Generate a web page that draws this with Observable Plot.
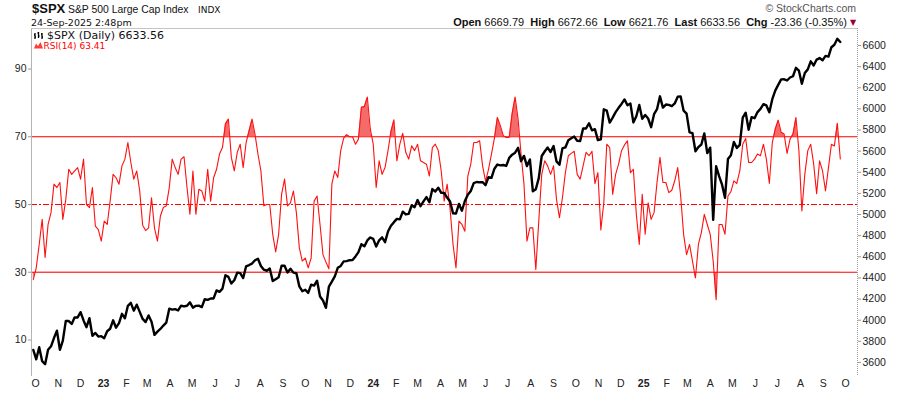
<!DOCTYPE html>
<html>
<head>
<meta charset="utf-8">
<script src="https://cdn.jsdelivr.net/npm/d3@7"></script>
<script src="https://cdn.jsdelivr.net/npm/@observablehq/plot@0.6"></script>
<style>
  body { margin: 0; background: #fff; }
  #wrap { position: relative; width: 900px; height: 396px; overflow: hidden; background: #fff; }
  #head { display: block; position: relative; z-index: 2; overflow: visible; }
  #chart svg { display: block; }
</style>
</head>
<body>
<div id="wrap">
<svg id="head" width="900" height="27">
  <text x="32" y="13" font-family="Liberation Sans, Arial, sans-serif" font-weight="bold" font-size="13" fill="#111">$SPX</text>
  <text x="68" y="12.5" font-family="Liberation Sans, Arial, sans-serif" font-size="10.4" fill="#111">S&amp;P 500 Large Cap Index</text>
  <text x="198" y="12.5" font-family="DejaVu Sans, sans-serif" font-size="9" fill="#111">INDX</text>
  <text x="31" y="26" font-family="DejaVu Sans, sans-serif" font-size="9.5" fill="#111">24-Sep-2025 2:48pm</text>
  <text x="856" y="12" text-anchor="end" font-family="Liberation Sans, Arial, sans-serif" font-size="10.5" fill="#555">© StockCharts.com</text>
  <text x="847" y="26" text-anchor="end" font-family="Liberation Sans, Arial, sans-serif" font-size="11" fill="#111" style="white-space:pre"><tspan font-weight="bold">Open</tspan> 6669.79  <tspan font-weight="bold">High</tspan> 6672.66  <tspan font-weight="bold">Low</tspan> 6621.76  <tspan font-weight="bold">Last</tspan> 6633.56  <tspan font-weight="bold">Chg</tspan> -23.36 (-0.35%)</text>
  <text x="853" y="25" text-anchor="middle" font-family="DejaVu Sans, sans-serif" font-size="8" fill="#990033">▼</text>
  <path d="M35 33v6M34 35h1M35 37h1M38.5 32v6M37.5 33h1M38.5 36h1M42 33v6M41 34h1M42 37h1" stroke="#000" stroke-width="1.3" fill="none"/>
  <text x="47" y="39" font-family="DejaVu Sans, sans-serif" font-size="11" fill="#111">$SPX (Daily) 6633.56</text>
  <path d="M34 48.5L36 43.5L38 46L40.5 42L43 48.5Z" fill="#ff3b3b"/>
  <text x="43.5" y="48.5" font-family="DejaVu Sans, sans-serif" font-size="9" fill="#ff0000">RSI(14) 63.41</text>
</svg>
<div id="chart"></div>
</div>
<script>
// ---------- data ----------
const startDate = "2022-09-28";      // first sample; RSI and price every 4 days
const stepDays = 4;

const rsiValues = [
  27.8,31.3,38.2,45.6,34.4,44.1,47.6,56,55,56.5,45.6,51.5,60.4,58.9,59.9,60.9,57.5,63.4,50,49.1,55,43.6,42.6,39.2,45.1,44.1,51,58.9,57.9,56,61.4,63.4,68.3,62.4,57.5,59.9,54,43.9,42.3,43.1,52,43.1,39.2,46.6,49.1,49.6,55,
  63.4,60.9,58.9,63.4,64.1,55,47.1,59.9,47.1,54.5,54,51,60.4,51,57.9,60.4,64.9,66.8,73.8,75.2,63.9,59.9,65.4,67.8,60.9,68.3,71.8,75.2,70.8,64.9,59.9,49.6,50,50,41.2,36,41.2,53,57.5,49.6,50.5,54,47.6,37.2,33.3,34.2,31.3,
  34.2,51,52.5,44.1,35.2,33,31,56,59.9,58,65.9,69.6,70.6,70,70,67.8,69.3,78.7,78.9,81.7,72.3,67.8,55,62.9,58.9,60.9,65.9,71.6,75,62.9,67.8,71,65.4,63.4,67.3,65.9,67.8,62.9,62.4,61.9,58.4,66.8,67.8,65.9,59.9,51,56,
  48.6,38.2,31.3,45.1,44.1,42.1,58.4,61.9,68.3,68.3,68.8,61.4,56.8,60.4,64.9,69.6,75.7,73.3,70.3,69.8,69.8,76.9,81.7,75.2,64.9,56,39.2,43.1,43.1,30.8,45.1,58.9,62.9,61.4,58.9,61.4,51.5,46.1,52,59.4,64.4,65.1,65.7,58.9,57.5,61.4,65.4,64.4,
  65.7,56.2,59.4,42.5,50.5,67.8,66.8,53,58.9,61.9,65.9,67.6,68.8,59.4,60.4,47.1,38.2,53,41.2,50.5,45.6,47.6,56.5,63.9,56.5,56.5,53.5,54.2,57,60.9,52.5,41.2,35.2,38.2,33.3,28.3,38.2,41.7,47.1,44.1,41.2,33.3,21.9,44.1,44.1,41.2,52.5,
  53.8,57,56.2,59.9,67.8,69.5,62.4,62.4,63.4,64.9,64.4,67.8,63.4,56.2,68.3,72.3,74.9,71.3,70.8,65.1,69.3,70.8,75.7,65.9,48.1,58.9,65.9,67.8,61.9,53.2,62.9,59.9,54,60.9,67.8,67.3,74,63.41
];

const priceValues = [
  3719,3630,3744,3612,3583,3720,3753,3831,3901,3720,
  3807,3993,3992,3965,4027,4026,4076,3998,3934,4019,
  3852,3879,3845,3849,3830,3895,3919,3999,3929,3972,
  4060,4018,4136,4164,4090,4147,4079,4012,3982,4045,
  3986,3861,3892,3917,3949,3977,4109,4100,4105,4092,
  4137,4130,4137,4169,4119,4136,4138,4124,4198,4192,
  4205,4206,4282,4268,4299,4426,4410,4348,4378,4450,
  4446,4399,4510,4522,4536,4567,4582,4513,4478,4468,
  4490,4370,4388,4406,4515,4516,4451,4487,4450,4444,
  4320,4274,4288,4258,4336,4327,4374,4224,4186,4117,
  4318,4365,4415,4496,4514,4557,4559,4568,4569,4604,
  4644,4719,4699,4755,4783,4770,4697,4756,4784,4739,
  4840,4894,4928,4959,4954,5027,5001,5006,5087,5070,
  5137,5079,5124,5165,5117,5241,5218,5254,5205,5204,
  5161,5123,5011,5010,5100,5036,5128,5187,5223,5297,
  5308,5305,5306,5278,5354,5347,5434,5473,5465,5469,
  5460,5537,5567,5585,5631,5505,5555,5459,5522,5220,
  5240,5345,5554,5597,5634,5592,5648,5503,5471,5626,
  5635,5703,5722,5738,5699,5696,5815,5815,5864,5797,
  5808,5705,5712,5996,5984,5870,5917,5969,6010,6047,
  6090,6034,6051,5872,5930,6037,5907,5942,5909,5827,
  5950,5997,6119,6012,6041,6038,6026,6052,6115,6118,
  5983,5955,5778,5770,5599,5639,5663,5768,5581,5633,
  4950,5457,5363,5283,5158,5525,5561,5687,5631,5660,
  5917,5964,5803,5922,5912,5970,6000,6045,6033,5968,
  6092,6173,6227,6279,6280,6269,6297,6309,6389,6362,
  6238,6340,6374,6450,6411,6467,6481,6460,6502,6495,
  6584,6607,6664,6633.56
];

const rsiTicks = [10, 30, 50, 70, 90];
const rsiLevels = {over: 70, mid: 50, under: 30};
const priceTicks = [3600,3800,4000,4200,4400,4600,4800,5000,5200,5400,5600,5800,6000,6200,6400,6600];
const monthLabels = ["O","N","D","23","F","M","A","M","J","J","A","S","O","N","D","24","F","M","A","M","J","J","A","S","O","N","D","25","F","M","A","M","J","J","A","S","O"];
const yearLabels = ["23","24","25"];

// ---------- build tables ----------
const start = new Date(startDate + "T00:00:00Z");
const rsiRows = rsiValues.map((v, i) => ({date: d3.utcDay.offset(start, stepDays * i), rsi: v}));
const priceRows = priceValues.map((v, i) => ({date: d3.utcDay.offset(start, stepDays * i), close: v}));
const monthDates = d3.utcMonth.range(new Date(Date.UTC(2022, 9, 1)), new Date(Date.UTC(2025, 10, 1)));
const monthRows = monthDates.map((d, i) => ({date: d, label: monthLabels[i], year: yearLabels.includes(monthLabels[i])}));

// ---------- scales ----------
const xDomain = [new Date(Date.UTC(2022, 8, 25, 14)), new Date(Date.UTC(2025, 9, 17, 7))];
const yDomain = [3467, 6761];                      // price scale
const rsiDomain = [-0.78, 101.96];                 // RSI range covering the same frame
const r2p = d3.scaleLinear().domain(rsiDomain).range(yDomain);

const W = 900, H = 369, mL = 31, mR = 43, mT = 1, mB = 20;
const font = "Liberation Sans, Arial, sans-serif";

const chart = Plot.plot({
  width: W, height: H,
  marginLeft: mL, marginRight: mR, marginTop: mT, marginBottom: mB,
  x: {type: "utc", domain: xDomain, axis: null},
  y: {domain: yDomain, label: null},
  style: {fontFamily: font, fontSize: "10.5px", background: "#fff", color: "#222", overflow: "visible"},
  marks: [
    // overbought / oversold fills (clipped afterwards)
    Plot.areaY(rsiRows, {x: "date", y1: r2p(rsiLevels.over), y2: d => r2p(d.rsi), fill: "#f36b6b"}),
    Plot.areaY(rsiRows, {x: "date", y1: r2p(rsiLevels.under), y2: d => r2p(d.rsi), fill: "#f36b6b"}),
    // reference lines
    Plot.ruleY([r2p(rsiLevels.over), r2p(rsiLevels.under)], {stroke: "#ff0000", strokeWidth: 1}),
    Plot.ruleY([r2p(rsiLevels.mid)], {stroke: "#ff0000", strokeWidth: 1, strokeDasharray: "6,2,2,2"}),
    // RSI line
    Plot.line(rsiRows, {x: "date", y: d => r2p(d.rsi), stroke: "#ff1010", strokeWidth: 1.1}),
    // price
    Plot.line(priceRows, {x: "date", y: "close", stroke: "#000", strokeWidth: 2.4}),
    // frame
    Plot.ruleX([xDomain[0]], {stroke: "#b4b4b4"}),
    Plot.ruleY([yDomain[1]], {stroke: "#c4c4c4"}),
    Plot.ruleX([xDomain[1]], {stroke: "#a0a0a0", strokeDasharray: "1,1"}),
    // axes
    Plot.axisY(rsiTicks.map(r2p), {anchor: "left", label: null, tickSize: 3, tickPadding: 2, stroke: "#999", fill: "#222",
      tickFormat: d => String(Math.round(r2p.invert(d))), fontSize: 10.5}),
    Plot.axisY(priceTicks, {anchor: "right", label: null, tickSize: 3, tickPadding: 2, stroke: "#999", fill: "#222",
      tickFormat: d => String(d), fontSize: 10.5}),
    Plot.text(monthRows.filter(d => !d.year), {x: "date", text: "label", frameAnchor: "bottom", dy: 10, fontSize: 10.5, fill: "#222"}),
    Plot.text(monthRows.filter(d => d.year), {x: "date", text: "label", frameAnchor: "bottom", dy: 10, fontSize: 10.5, fontWeight: "bold", fill: "#222"})
  ]
});

// clip the fills to the overbought / oversold zones
const py = v => mT + (1 - (v - yDomain[0]) / (yDomain[1] - yDomain[0])) * (H - mT - mB);
const ns = "http://www.w3.org/2000/svg";
const defs = document.createElementNS(ns, "defs");
function clip(id, y0, y1) {
  const cp = document.createElementNS(ns, "clipPath");
  cp.setAttribute("id", id);
  const r = document.createElementNS(ns, "rect");
  r.setAttribute("x", 0); r.setAttribute("width", W);
  r.setAttribute("y", y0); r.setAttribute("height", Math.max(0, y1 - y0));
  cp.appendChild(r); defs.appendChild(cp);
}
clip("clipOver", 0, py(r2p(rsiLevels.over)));
clip("clipUnder", py(r2p(rsiLevels.under)), H);
chart.insertBefore(defs, chart.firstChild);
const areas = chart.querySelectorAll('g[aria-label="area"]');
if (areas[0]) areas[0].setAttribute("clip-path", "url(#clipOver)");
if (areas[1]) areas[1].setAttribute("clip-path", "url(#clipUnder)");

document.getElementById("chart").appendChild(chart);
</script>
</body>
</html>
